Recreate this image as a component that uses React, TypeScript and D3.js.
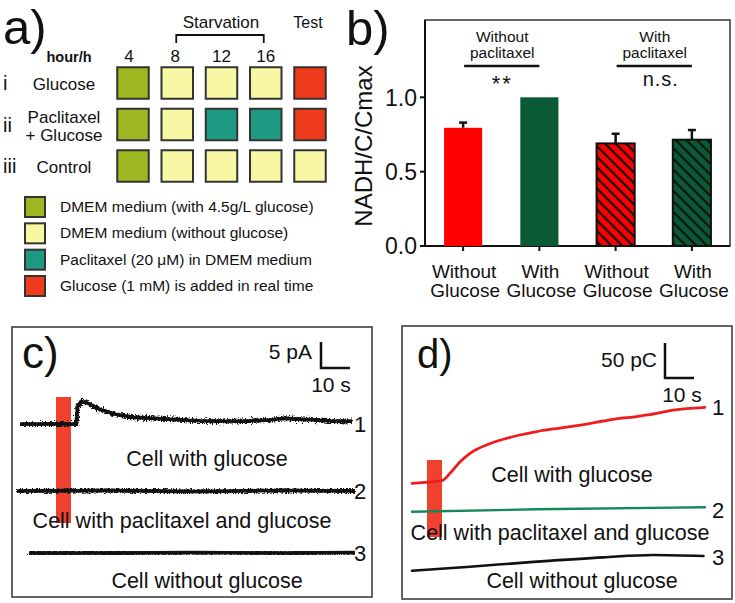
import React from 'react';
import * as d3 from 'd3';

const FONT = "'Liberation Sans', Arial, Helvetica, sans-serif";

// ---------- Panel a data ----------
const hourLabels = ['4', '8', '12', '16'];
const rowNumerals = ['i', 'ii', 'iii'];
const rowNames = [['Glucose'], ['Paclitaxel', '+ Glucose'], ['Control']];
const scheduleCells = [
  ['rich', 'free', 'free', 'free', 'glc'],
  ['rich', 'free', 'ptx', 'ptx', 'glc'],
  ['rich', 'free', 'free', 'free', 'free'],
];
const legendKeys = ['rich', 'free', 'ptx', 'glc'];
const legendLabels = [
  'DMEM medium (with 4.5g/L glucose)',
  'DMEM medium (without glucose)',
  'Paclitaxel (20 \u03bcM) in DMEM medium',
  'Glucose (1 mM) is added in real time',
];
const cellColors: Record<string, string> = {
  rich: '#9cb71f',
  free: '#f8f8a4',
  ptx: '#1e9a82',
  glc: '#f03a1c',
};

// ---------- Panel b data ----------
const barCategories = [['Without', 'Glucose'], ['With', 'Glucose'], ['Without', 'Glucose'], ['With', 'Glucose']];
const barValues = [0.795, 1.0, 0.69, 0.715];
const barErrors = [0.035, 0, 0.065, 0.065];
const barHatched = [false, false, true, true];
const barColors = ['#ff0000', '#0b5a36', '#ff0000', '#0b5a36'];
const yTicksB = [0, 0.5, 1.0];
const groupLabels = [['Without', 'paclitaxel'], ['With', 'paclitaxel']];
const groupSig = ['**', 'n.s.'];
const groupBars = [[0, 1], [2, 3]];

// ---------- Panel c data (time s, current pA) ----------
const c1T = [0, 19.5, 19.8, 21.0, 22.4, 24.1, 27.6, 32.8, 39.0, 48.3, 62.1, 75.9, 86.2, 91.4, 96.6, 106.9, 114.5];
const c1V = [0, 0, 3.2, 4.3, 4.2, 3.8, 2.8, 1.9, 1.3, 1.0, 0.6, 0.5, 0.8, 1.1, 0.9, 0.6, 0.5];
const c2T = [-1, 30, 60, 90, 115.5];
const c2V = [0, 0.1, -0.1, 0.1, 0];
const c3T = [3.1, 30, 60, 90, 115.5];
const c3V = [0, 0, 0.1, 0, 0.1];
const cLabels = ['Cell with glucose', 'Cell with paclitaxel and glucose', 'Cell without glucose'];

// ---------- Panel d data (time s, charge pC) ----------
const d1T = [0, 10.3, 13.1, 16.6, 20.0, 25.7, 31.5, 37.2, 43.0, 48.7, 54.5, 60.3, 66.0, 71.7, 77.5, 81.0, 83.2, 89.0, 94.7, 101.0];
const d1V = [0, 3.7, 14.3, 30.9, 42.9, 54.7, 62.9, 69.0, 73.9, 77.6, 80.9, 84.7, 89.0, 92.9, 95.1, 97.6, 99.0, 103.7, 106.6, 108.6];
const d2T = [0, 43, 101];
const d2V = [0, 3.4, 6.3];
const d3T = [0, 20, 43, 66, 83.2, 100.5];
const d3V = [0, 5.7, 12.9, 19.1, 22.4, 21.0];
const dLabels = ['Cell with glucose', 'Cell with paclitaxel and glucose', 'Cell without glucose'];

function PanelA() {
  const xCol = d3.scalePoint<number>().domain([0, 1, 2, 3, 4]).range([133, 310]);
  const yRow = d3.scalePoint<number>().domain([0, 1, 2]).range([83, 166]);
  const sq = 31.5;
  const legY = d3.scalePoint<number>().domain([0, 1, 2, 3]).range([207, 286]);
  return (
    <g fontFamily={FONT} fill="#111">
      <text x={3} y={44} fontSize={49}>a)</text>
      <text x={69} y={62} fontSize={14.5} textAnchor="middle" fontWeight={600}>hour/h</text>
      {hourLabels.map((h, i) => (
        <text key={h} x={xCol(i)! - (i === 0 ? 4 : i === 1 ? 2 : 0)} y={62} fontSize={17} textAnchor="middle">{h}</text>
      ))}
      <text x={221} y={28} fontSize={17} textAnchor="middle">Starvation</text>
      <text x={308} y={28} fontSize={16} textAnchor="middle">Test</text>
      <path d={`M${xCol(1)! - 1},43 V35 H${xCol(3)! - 2} V43`} fill="none" stroke="#111" strokeWidth={1.8} />
      {rowNumerals.map((r, i) => (
        <text key={r} x={3} y={yRow(i)! + 7} fontSize={20}>{r}</text>
      ))}
      {rowNames.map((lines, i) => (
        <text key={i} x={64} y={yRow(i)! + 7 - (lines.length - 1) * 9} fontSize={17} textAnchor="middle">
          {lines.map((l, j) => (
            <tspan key={j} x={64} dy={j === 0 ? 0 : 18}>{l}</tspan>
          ))}
        </text>
      ))}
      {scheduleCells.map((row, i) =>
        row.map((c, j) => (
          <rect key={`${i}-${j}`} x={xCol(j)! - sq / 2} y={yRow(i)! - sq / 2} width={sq} height={sq}
            fill={cellColors[c]} stroke="#333" strokeWidth={2} />
        ))
      )}
      {legendKeys.map((k, i) => (
        <g key={k}>
          <rect x={25} y={legY(i)! - 10} width={20} height={20} fill={cellColors[k]} stroke="#333" strokeWidth={2} />
          <text x={60} y={legY(i)! + 5} fontSize={15.5}>{legendLabels[i]}</text>
        </g>
      ))}
    </g>
  );
}

function PanelB() {
  const left = 425, right = 730, top = 20, bottom = 246;
  const x = d3.scaleBand<number>().domain([0, 1, 2, 3]).range([left, right]).paddingInner(0.5).paddingOuter(0.25);
  const y = d3.scaleLinear().domain([0, 1.52]).range([bottom, top]);
  const bw = x.bandwidth();
  const cx = (i: number) => x(i)! + bw / 2;
  return (
    <g fontFamily={FONT} fill="#111">
      <defs>
        <pattern id="hatchRed" patternUnits="userSpaceOnUse" width={7.5} height={7.5} patternTransform="rotate(-45)">
          <rect width={7.5} height={7.5} fill="#ff0000" />
          <line x1={3.75} y1={0} x2={3.75} y2={7.5} stroke="#111" strokeWidth={2.2} />
        </pattern>
        <pattern id="hatchGreen" patternUnits="userSpaceOnUse" width={7.5} height={7.5} patternTransform="rotate(-45)">
          <rect width={7.5} height={7.5} fill="#0b5a36" />
          <line x1={3.75} y1={0} x2={3.75} y2={7.5} stroke="#111" strokeWidth={2.2} />
        </pattern>
      </defs>
      <text x={346} y={45} fontSize={49}>b)</text>
      <rect x={left} y={top} width={right - left} height={bottom - top} fill="none" stroke="#333" strokeWidth={1.5} />
      <line x1={left} x2={left} y1={top} y2={bottom} stroke="#111" strokeWidth={2} />
      <line x1={left} x2={right} y1={bottom} y2={bottom} stroke="#111" strokeWidth={2} />
      {yTicksB.map(t => (
        <g key={t}>
          <line x1={left - 5} x2={left} y1={y(t)} y2={y(t)} stroke="#111" strokeWidth={2} />
          <text x={417} y={y(t)} dy="0.36em" fontSize={23} textAnchor="end">{t.toFixed(1)}</text>
        </g>
      ))}
      <text transform={`translate(372,146) rotate(-90)`} fontSize={24} textAnchor="middle">NADH/C/Cmax</text>
      {barValues.map((v, i) => (
        <g key={i}>
          {barErrors[i] > 0 && (
            <g stroke="#111" strokeWidth={2.5}>
              <line x1={cx(i)} x2={cx(i)} y1={y(v)} y2={y(v + barErrors[i])} />
              <line x1={cx(i) - 4} x2={cx(i) + 4} y1={y(v + barErrors[i])} y2={y(v + barErrors[i])} />
            </g>
          )}
          <rect x={x(i)} y={y(v)} width={bw} height={bottom - y(v)}
            fill={barHatched[i] ? (i === 2 ? 'url(#hatchRed)' : 'url(#hatchGreen)') : barColors[i]}
            stroke={barHatched[i] ? '#111' : 'none'} strokeWidth={barHatched[i] ? 2 : 0} />
          <line x1={cx(i)} x2={cx(i)} y1={bottom} y2={bottom + 5} stroke="#111" strokeWidth={2} />
          <text x={cx(i) + 1} y={278} fontSize={19} textAnchor="middle">
            <tspan x={cx(i) + 1}>{barCategories[i][0]}</tspan>
            <tspan x={cx(i) + 2} dy={19}>{barCategories[i][1]}</tspan>
          </text>
        </g>
      ))}
      {groupLabels.map((g, k) => {
        const a = cx(groupBars[k][0]), b = cx(groupBars[k][1]);
        const m = (a + b) / 2 + 1;
        return (
          <g key={k}>
            <text x={m} y={42} fontSize={15.5} textAnchor="middle">
              <tspan x={m}>{g[0]}</tspan>
              <tspan x={m} dy={16}>{g[1]}</tspan>
            </text>
            <line x1={a + 1} x2={b} y1={66} y2={66} stroke="#111" strokeWidth={2.5} />
            <text x={m + (k === 1 ? 6 : 0)} y={k === 0 ? 91 : 86} fontSize={k === 0 ? 22 : 20} textAnchor="middle"
              letterSpacing={k === 1 ? 1 : 2}>{groupSig[k]}</text>
          </g>
        );
      })}
    </g>
  );
}

function PanelC() {
  const x = d3.scaleLinear().domain([0, 10]).range([20, 49]);
  const y = d3.scaleLinear().domain([0, 5]).range([0, -26]);
  const offsets = [424, 491, 553];
  const traces = [[c1T, c1V], [c2T, c2V], [c3T, c3V]];
  const line = (T: number[], V: number[], off: number) =>
    d3.line<number>().x(i => x(T[i])).y(i => off + y(V[i]))(T.map((_, i) => i)) || '';
  const sbX = 321, sbY = 368;
  return (
    <g fontFamily={FONT} fill="#111">
      <defs>
        <filter id="noise" x="-5%" y="-200%" width="110%" height="500%">
          <feTurbulence type="fractalNoise" baseFrequency="1.2 0.6" numOctaves={2} seed={7} result="t" />
          <feDisplacementMap in="SourceGraphic" in2="t" scale={8} xChannelSelector="R" yChannelSelector="G" />
        </filter>
      </defs>
      <rect x={12} y={327} width={360} height={270} fill="none" stroke="#333" strokeWidth={1.5} />
      <text x={22} y={368} fontSize={44}>c)</text>
      <rect x={56} y={397} width={15} height={126} fill="#f0402e" />
      {traces.map(([T, V], k) => (
        <g key={k}>
          <path d={line(T, V, offsets[k])} fill="none" stroke="#111" strokeWidth={4} strokeLinejoin="round" filter="url(#noise)" />
          <path d={line(T, V, offsets[k])} fill="none" stroke="#111" strokeWidth={3.4} strokeLinejoin="round" />
          <text x={354} y={offsets[k] + 8} fontSize={22}>{k + 1}</text>
        </g>
      ))}
      <text x={207} y={466} fontSize={21.5} textAnchor="middle">{cLabels[0]}</text>
      <text x={182} y={528} fontSize={21.5} textAnchor="middle">{cLabels[1]}</text>
      <text x={207} y={588} fontSize={21.5} textAnchor="middle">{cLabels[2]}</text>
      <text x={312} y={359} fontSize={21} textAnchor="end">5 pA</text>
      <path d={`M${sbX},${sbY + y(5)} V${sbY} H${sbX + x(10) - x(0)}`} fill="none" stroke="#111" strokeWidth={2.5} />
      <text x={331} y={392} fontSize={21} textAnchor="middle">10 s</text>
    </g>
  );
}

function PanelD() {
  const x = d3.scaleLinear().domain([0, 10]).range([412, 441]);
  const y = d3.scaleLinear().domain([0, 50]).range([0, -35]);
  const offsets = [483.3, 511.7, 570.7];
  const traces = [[d1T, d1V], [d2T, d2V], [d3T, d3V]];
  const colors = ['#ee1c1c', '#14885a', '#111'];
  const widths = [2.8, 2.4, 2.6];
  const line = (T: number[], V: number[], off: number) =>
    d3.line<number>().x(i => x(T[i])).y(i => off + y(V[i])).curve(d3.curveMonotoneX)(T.map((_, i) => i)) || '';
  const sbX = 665, sbY = 378;
  return (
    <g fontFamily={FONT} fill="#111">
      <rect x={402} y={326} width={330} height={273} fill="none" stroke="#333" strokeWidth={1.5} />
      <text x={417} y={368} fontSize={40}>d)</text>
      <rect x={427} y={460} width={15} height={77} fill="#f0402e" />
      <text x={572} y={482} fontSize={21.5} textAnchor="middle">{dLabels[0]}</text>
      <text x={560} y={540} fontSize={21.5} textAnchor="middle">{dLabels[1]}</text>
      <text x={582} y={588} fontSize={21.5} textAnchor="middle">{dLabels[2]}</text>
      {traces.map(([T, V], k) => (
        <g key={k}>
          <path d={line(T, V, offsets[k])} fill="none" stroke={colors[k]} strokeWidth={widths[k]} strokeLinecap="round" />
          <text x={712} y={[415, 518, 565][k]} fontSize={22}>{k + 1}</text>
        </g>
      ))}
      <text x={657} y={367} fontSize={21} textAnchor="end">50 pC</text>
      <path d={`M${sbX},${sbY + y(50)} V${sbY} H${sbX + x(10) - x(0)}`} fill="none" stroke="#111" strokeWidth={2.5} />
      <text x={682} y={402} fontSize={21} textAnchor="middle">10 s</text>
    </g>
  );
}

export default function App() {
  return (
    <svg width={735} height={603} viewBox="0 0 735 603"
      style={{ position: 'absolute', left: 0, top: 0, background: '#fff' }}>
      <rect width={735} height={603} fill="#fff" />
      <PanelA />
      <PanelB />
      <PanelC />
      <PanelD />
    </svg>
  );
}
